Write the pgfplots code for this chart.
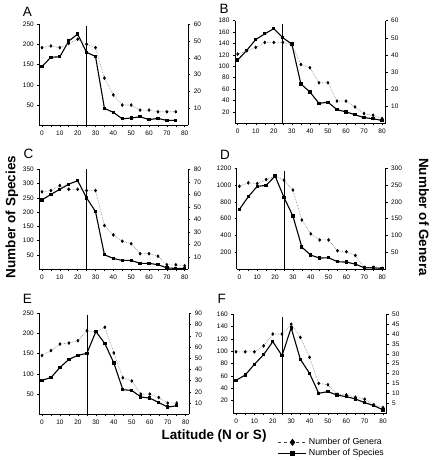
\documentclass[border=0pt]{standalone}
\usepackage{pgfplots}
\pgfplotsset{compat=1.18}
\usepackage{fontspec}
\setmainfont{Liberation Sans}

\pgfplotsset{
  panel/.style={scale only axis, xmin=-1.5, xmax=82, ymin=0,
    /pgf/number format/assume math mode=true,
    /pgf/number format/1000 sep={},
    tick label style={font=\fontsize{6.5}{7}\selectfont},
    tick align=outside, major tick length=2pt, minor tick length=2pt,
    axis line style={line width=0.7pt}, tick style={line width=0.5pt, black},
    clip=false},
  leftax/.style={panel, axis x line*=bottom, axis y line*=left,
    xtick={0,10,...,80}, minor xtick={5,15,...,75}},
  rightax/.style={panel, axis x line=none, axis y line*=right},
  spec/.style={black, line width=1.1pt, mark=square*, mark size=1.1pt, mark options={solid}},
  gen/.style={gray, densely dotted, line width=0.6pt, mark=diamond*, mark size=1.4pt, mark options={solid, black}},
  vline/.style={black, line width=0.8pt, no marks},
}
\newcommand{\lett}{\fontsize{13.5}{14}\selectfont}
\newcommand{\ttl}{\fontsize{13.5}{14}\selectfont\bfseries}

\begin{document}
\begin{tikzpicture}
\path[use as bounding box] (0,0) rectangle (433pt,-460pt);

% ---------- A ----------
\begin{axis}[leftax, at={(39.3pt,-125.3pt)}, anchor=south west, width=149pt, height=101.3pt,
  ymax=250, ytick={50,100,...,250}]
\addplot[spec] coordinates {(0,145) (5,168) (10,169) (15,208) (20,225) (25,180) (30,170) (35,42) (40,32) (45,16) (50,18) (55,21) (60,14) (65,17) (70,12) (75,12)};
\addplot[vline] coordinates {(25,0) (25,245)};
\end{axis}
\begin{axis}[rightax, at={(39.3pt,-125.3pt)}, anchor=south west, width=149pt, height=101.3pt,
  ymax=60, ytick={10,20,...,60}]
\addplot[gen] coordinates {(0,46) (5,47) (10,46) (15,48.5) (20,51) (25,48) (30,46) (35,28) (40,18) (45,12) (50,12) (55,9) (60,9) (65,8) (70,8) (75,8)};
\end{axis}

% ---------- B ----------
\begin{axis}[leftax, at={(235pt,-123.3pt)}, anchor=south west, width=150.7pt, height=102.6pt,
  ymax=180, ytick={20,40,...,180}]
\addplot[spec] coordinates {(0,111) (5,128) (10,147) (15,157) (20,166) (25,150) (30,139) (35,69) (40,55) (45,35) (50,37) (55,24) (60,20) (65,15) (70,10) (75,8) (80,5)};
\addplot[vline] coordinates {(25,0) (25,175)};
\end{axis}
\begin{axis}[rightax, at={(235pt,-123.3pt)}, anchor=south west, width=150.7pt, height=102.6pt,
  ymax=60, ytick={10,20,...,60}]
\addplot[gen] coordinates {(0,40.5) (5,42.4) (10,44.4) (15,47.3) (20,47.3) (25,47.3) (30,46) (35,34.4) (40,32.5) (45,23.7) (50,23.7) (55,13) (60,13) (65,9.6) (70,5.7) (75,4.7) (80,2.8)};
\end{axis}

% ---------- C ----------
\begin{axis}[leftax, at={(39.3pt,-269.3pt)}, anchor=south west, width=149pt, height=100pt,
  ymax=350, ytick={50,100,...,350}]
\addplot[spec] coordinates {(0,243) (5,262) (10,280) (15,298) (20,310) (25,250) (30,202) (35,51) (40,38) (45,31) (50,31) (55,21) (60,21) (65,16) (70,5) (75,3) (80,3)};
\addplot[vline] coordinates {(25,0) (25,350)};
\end{axis}
\begin{axis}[rightax, at={(39.3pt,-269.3pt)}, anchor=south west, width=149pt, height=100pt,
  ymax=80, ytick={10,20,...,80}]
\addplot[gen] coordinates {(0,62) (5,63) (10,67) (15,64) (20,64) (25,63) (30,63) (35,35) (40,27.5) (45,22.5) (50,20.5) (55,12.5) (60,12.5) (65,10.5) (70,3.6) (75,3.6) (80,2.8)};
\end{axis}

% ---------- D ----------
\begin{axis}[leftax, at={(236.7pt,-269.3pt)}, anchor=south west, width=149pt, height=101.3pt,
  ymax=1200, ytick={200,400,...,1200}]
\addplot[spec] coordinates {(0,710) (5,860) (10,983) (15,994) (20,1105) (25,852) (30,631) (35,263) (40,168) (45,133) (50,137) (55,90) (60,85) (65,62) (70,18) (75,18) (80,10)};
\addplot[vline] coordinates {(25,0) (25,1170)};
\end{axis}
\begin{axis}[rightax, at={(236.7pt,-269.3pt)}, anchor=south west, width=149pt, height=101.3pt,
  ymax=300, ytick={50,100,...,300}]
\addplot[gen] coordinates {(0,246) (5,256) (10,254) (15,266) (20,276) (25,264) (30,235) (35,146) (40,105) (45,87) (50,87) (55,55) (60,52) (65,41) (70,6) (75,6) (80,3)};
\end{axis}

% ---------- E ----------
\begin{axis}[leftax, at={(39.3pt,-414.3pt)}, anchor=south west, width=150pt, height=101pt,
  ymax=250, ytick={50,100,...,250}]
\addplot[spec] coordinates {(0,84) (5,91) (10,116) (15,136) (20,146) (25,151) (30,205) (35,175) (40,127) (45,61) (50,59) (55,43) (60,40) (65,29) (70,18) (75,21)};
\addplot[vline] coordinates {(25,0) (25,245)};
\end{axis}
\begin{axis}[rightax, at={(39.3pt,-414.3pt)}, anchor=south west, width=150pt, height=101pt,
  ymax=90, ytick={10,20,...,90}]
\addplot[gen] coordinates {(0,52.4) (5,56.8) (10,62.6) (15,63.5) (20,65.6) (25,74.4) (30,73.5) (35,77.6) (40,54.7) (45,32.6) (50,29.7) (55,18) (60,18) (65,15) (70,10) (75,10)};
\end{axis}

% ---------- F ----------
\begin{axis}[leftax, at={(233.3pt,-413pt)}, anchor=south west, width=153.4pt, height=98.7pt,
  ymax=160, ytick={20,40,...,160}]
\addplot[spec] coordinates {(0,53) (5,61.6) (10,79) (15,94.6) (20,115.7) (25,93) (30,138) (35,87) (40,64.3) (45,32) (50,34.6) (55,29) (60,26.5) (65,22.7) (70,16.8) (75,12) (80,5)};
\addplot[vline] coordinates {(25,0) (25,155)};
\end{axis}
\begin{axis}[rightax, at={(233.3pt,-413pt)}, anchor=south west, width=153.4pt, height=98.7pt,
  ymax=50, ytick={5,10,...,50},
  legend style={at={(0.29,-0.235)}, anchor=north west, draw=none, fill=none,
    font=\fontsize{8.8}{10}\selectfont, inner sep=0pt, row sep=-1pt},
  legend cell align=left,
  legend image code/.code={\draw[mark repeat=2,mark phase=2,#1] plot coordinates {(0pt,0pt) (14pt,0pt) (28pt,0pt)};}]
\addlegendimage{darkgray, dashed, line width=0.8pt, mark=diamond*, mark size=3pt, mark options={solid,black}}
\addlegendentry{Number of Genera}
\addlegendimage{black, line width=1pt, mark=square*, mark size=2.2pt, mark options={solid}}
\addlegendentry{Number of Species}
\addplot[gen, forget plot] coordinates {(0,31) (5,31) (10,31) (15,34) (20,40) (25,40) (30,45) (35,38.3) (40,28.2) (45,15) (50,14.3) (55,9.5) (60,9.2) (65,8) (70,7) (75,4.2) (80,2.8)};
\end{axis}

% ---------- letters and titles ----------
\node[anchor=base west, inner sep=0pt, font=\lett] at (22.7pt,-16.7pt) {A};
\node[anchor=base west, inner sep=0pt, font=\lett] at (219.3pt,-14pt) {B};
\node[anchor=base west, inner sep=0pt, font=\lett] at (23.3pt,-158.3pt) {C};
\node[anchor=base west, inner sep=0pt, font=\lett] at (220pt,-159.3pt) {D};
\node[anchor=base west, inner sep=0pt, font=\lett] at (22.7pt,-303.3pt) {E};
\node[anchor=base west, inner sep=0pt, font=\lett] at (217.3pt,-303.3pt) {F};

\node[rotate=90, inner sep=0pt, font=\ttl] at (12pt,-217pt) {Number of Species};
\node[rotate=-90, inner sep=0pt, font=\ttl] at (424pt,-217pt) {Number of Genera};
\node[inner sep=0pt, font=\ttl] at (214pt,-436pt) {Latitude (N or S)};
\end{tikzpicture}
\end{document}
